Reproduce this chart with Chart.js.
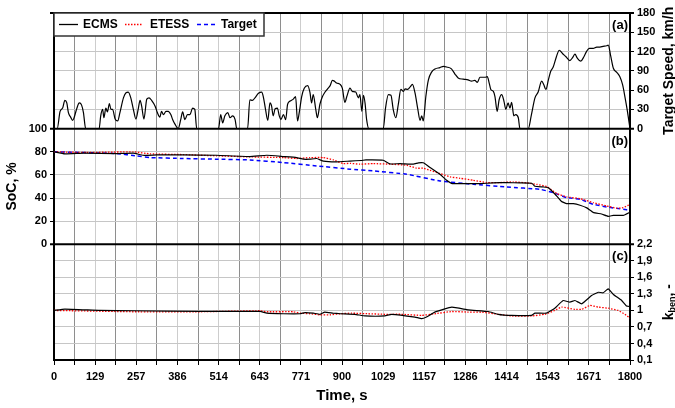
<!DOCTYPE html>
<html>
<head>
    <title>ECMS vs ETESS</title>
    <script src="https://cdn.jsdelivr.net/npm/chart.js"></script>
    <style>
        html, body { margin: 0; padding: 0; background: #fff; }
    </style>
</head>
<body>
    <canvas id="chart" width="675" height="408"></canvas>

    <script>
        // Axis tick labels
        const xTickLabels = ["0", "129", "257", "386", "514", "643", "771", "900", "1029", "1157", "1286", "1414", "1543", "1671", "1800"];
        const speedTicks = [0, 30, 60, 90, 120, 150, 180];
        const socTicks = [0, 20, 40, 60, 80, 100];
        const kbenTicks = [0.1, 0.4, 0.7, 1.0, 1.3, 1.6, 1.9, 2.2];
        const kbenTickLabels = ["0,1", "0,4", "0,7", "1", "1,3", "1,6", "1,9", "2,2"];
        const seriesNames = ["ECMS", "ETESS", "Target"];

        // (a) target speed, km/h
        const speedTime = [0, 10, 19, 27, 34, 40, 45, 52, 58, 62, 71, 79, 86, 92, 99, 141, 146, 152, 156, 162, 167, 173, 178, 183, 191, 199, 206, 217, 225, 232, 240, 248, 256, 263, 269, 274, 281, 290, 297, 305, 316, 323, 331, 336, 342, 350, 357, 365, 371, 378, 388, 396, 402, 409, 417, 425, 433, 440, 446, 514, 521, 527, 534, 543, 550, 558, 566, 571, 605, 612, 620, 628, 639, 649, 654, 661, 668, 675, 680, 685, 691, 698, 704, 709, 717, 724, 730, 738, 748, 755, 761, 767, 774, 782, 793, 800, 805, 810, 818, 823, 831, 839, 847, 855, 863, 870, 876, 883, 894, 901, 909, 915, 925, 932, 943, 951, 956, 962, 967, 972, 977, 984, 1029, 1036, 1045, 1053, 1060, 1068, 1076, 1084, 1092, 1097, 1105, 1113, 1120, 1128, 1137, 1144, 1149, 1154, 1162, 1170, 1180, 1191, 1206, 1217, 1227, 1242, 1253, 1263, 1279, 1294, 1305, 1315, 1323, 1331, 1347, 1354, 1360, 1365, 1373, 1378, 1385, 1391, 1399, 1406, 1412, 1419, 1425, 1430, 1437, 1443, 1451, 1456, 1482, 1492, 1503, 1513, 1524, 1531, 1537, 1545, 1552, 1560, 1570, 1579, 1589, 1600, 1612, 1621, 1628, 1635, 1646, 1656, 1664, 1673, 1685, 1696, 1706, 1716, 1727, 1732, 1739, 1748, 1758, 1768, 1777, 1784, 1791, 1800];
        const speedValues = [0, 0, 27, 32, 44, 40, 25, 18, 13, 16, 31, 40, 37, 25, 0, 0, 20, 30, 17, 32, 26, 39, 30, 30, 15, 12, 25, 48, 56, 57, 48, 30, 15, 30, 44, 35, 15, 46, 48, 44, 35, 25, 18, 27, 22, 27, 27, 22, 14, 7, 0, 14, 26, 14, 22, 22, 32, 30, 0, 0, 22, 9, 20, 25, 17, 20, 14, 0, 0, 45, 44, 48, 55, 57, 50, 30, 13, 40, 35, 20, 31, 32, 20, 14, 22, 14, 38, 43, 46, 50, 12, 27, 50, 63, 67, 56, 40, 53, 30, 17, 38, 50, 57, 62, 67, 75, 74, 71, 69, 63, 41, 50, 63, 58, 57, 48, 53, 27, 52, 40, 14, 0, 0, 32, 53, 52, 30, 17, 38, 61, 58, 62, 61, 65, 69, 56, 30, 13, 20, 12, 50, 76, 88, 93, 95, 97, 96, 93, 85, 79, 77, 76, 74, 75, 72, 80, 80, 81, 71, 61, 58, 50, 27, 45, 53, 43, 30, 40, 32, 41, 20, 22, 17, 0, 0, 22, 48, 57, 74, 68, 61, 76, 89, 96, 112, 122, 117, 112, 106, 111, 116, 110, 105, 112, 120, 125, 125, 127, 127, 128, 129, 130, 115, 94, 88, 81, 68, 50, 30, 0];

        // (b) state of charge, %
        const ecmsSocTime = [0, 34, 92, 196, 248, 279, 321, 404, 508, 612, 665, 717, 758, 779, 800, 821, 842, 883, 925, 960, 975, 1029, 1050, 1081, 1123, 1139, 1154, 1175, 1206, 1227, 1245, 1290, 1331, 1373, 1415, 1456, 1493, 1503, 1529, 1545, 1566, 1586, 1602, 1623, 1644, 1665, 1685, 1711, 1732, 1748, 1779, 1800];
        const ecmsSoc = [80, 78.2, 78.8, 78.5, 78.8, 77, 77.3, 77.3, 77, 75.9, 77, 75.9, 75, 73.6, 73.6, 74.2, 71.9, 71.3, 72, 72.5, 73, 72.7, 69.5, 69.8, 69.3, 70.5, 70.5, 66.5, 60.6, 55.4, 52.5, 52.5, 52.5, 53.1, 53.4, 53.1, 52.8, 50.2, 49.6, 49, 43.3, 37, 35.2, 35.2, 33.8, 31.5, 27.6, 26.2, 24.2, 25.1, 25.1, 27.8];
        const etessSocTime = [0, 100, 248, 300, 404, 508, 612, 717, 758, 800, 842, 873, 904, 925, 956, 998, 1050, 1102, 1133, 1154, 1175, 1206, 1238, 1269, 1310, 1352, 1394, 1435, 1477, 1508, 1540, 1571, 1602, 1644, 1685, 1727, 1758, 1779, 1800];
        const etessSoc = [80, 79.4, 80, 78.2, 77.6, 76.5, 75.6, 75, 74.2, 75, 75, 73, 69.8, 70, 69.3, 69.8, 69.3, 68.4, 65.8, 65.8, 64, 61.2, 58.3, 57.1, 55.4, 53.4, 53.4, 54, 53.1, 51.9, 49.9, 43.9, 41, 39.5, 36, 33.2, 31.2, 31.7, 34.6];
        const targetSocTime = [0, 196, 258, 300, 404, 508, 612, 717, 821, 925, 998, 1102, 1206, 1310, 1415, 1519, 1560, 1602, 1644, 1685, 1727, 1779, 1800];
        const targetSoc = [80, 78.5, 76.5, 75, 74.2, 73.6, 73, 70.7, 67.8, 65, 63.5, 60.6, 54.8, 51.9, 49.6, 47.6, 44.7, 40.4, 39, 34.6, 32.3, 30.3, 29.4];

        // (c) k_ben, -
        const ecmsKbenTime = [0, 34, 144, 248, 456, 644, 665, 717, 769, 784, 810, 831, 846, 872, 894, 940, 972, 1034, 1055, 1128, 1149, 1164, 1190, 1243, 1295, 1357, 1388, 1430, 1492, 1503, 1539, 1565, 1591, 1612, 1628, 1649, 1680, 1701, 1716, 1732, 1748, 1774, 1789, 1800];
        const ecmsKben = [1.0, 1.025, 1.0, 0.994, 0.982, 0.982, 0.95, 0.94, 0.94, 0.96, 0.95, 0.93, 0.97, 0.95, 0.94, 0.93, 0.9, 0.9, 0.93, 0.88, 0.85, 0.88, 0.97, 1.06, 1.01, 0.98, 0.93, 0.91, 0.91, 0.95, 0.95, 1.04, 1.18, 1.15, 1.18, 1.12, 1.27, 1.33, 1.32, 1.39, 1.29, 1.18, 1.08, 1.07];
        const etessKbenTime = [0, 248, 456, 644, 665, 748, 769, 800, 831, 862, 894, 930, 982, 1034, 1086, 1149, 1190, 1243, 1295, 1336, 1388, 1430, 1493, 1534, 1565, 1586, 1628, 1649, 1675, 1701, 1732, 1763, 1784, 1800];
        const etessKben = [1.0, 0.976, 0.976, 0.994, 0.976, 0.976, 0.95, 0.94, 0.92, 0.92, 0.94, 0.95, 0.94, 0.93, 0.93, 0.91, 0.94, 0.98, 0.97, 0.97, 0.93, 0.90, 0.90, 0.93, 1.0, 1.06, 1.02, 1.02, 1.09, 1.06, 1.04, 1.0, 0.93, 0.86];

        const FONT = "'Liberation Sans', Arial, sans-serif";
        const tickFont = { family: FONT, size: 11, weight: "bold" };

        function points(times, values) {
            return times.map((t, i) => ({ x: t, y: values[i] }));
        }

        // labelled ticks every 1800/14 s, grid lines also halfway between
        const xGridValues = [];
        for (let i = 0; i <= 28; i++) xGridValues.push(i * 1800 / 28);

        function setTicks(values) {
            return (scale) => { scale.ticks = values.map((v) => ({ value: v })); };
        }
        function hideEdges(lo, hi) {
            return (c) => (c.tick && (Math.abs(c.tick.value - lo) < 1e-6 || Math.abs(c.tick.value - hi) < 1e-6)) ? "rgba(0,0,0,0)" : "#c6c6c6";
        }
        const leftWidth = (s) => { s.width = 54; };
        const rightWidth = (s) => { s.width = 45; };

        function placeholder(pos, min, max) {
            return {
                position: pos, stack: "panels", stackWeight: 1, min: min, max: max,
                ticks: { display: false },
                grid: { display: false },
                border: { color: "#000", width: 2 },
                afterFit: pos === "left" ? leftWidth : rightWidth
            };
        }

        // frame, panel letters, legend and the right-hand titles
        const decorations = {
            id: "decorations",
            afterDraw(chart) {
                const { ctx, chartArea, scales } = chart;
                const L = chartArea.left, R = chartArea.right;
                ctx.save();

                ctx.strokeStyle = "#000";
                ctx.lineWidth = 2;
                [chartArea.top, scales.yB.getPixelForValue(100), scales.yB.getPixelForValue(0)].forEach((y) => {
                    ctx.beginPath();
                    ctx.moveTo(L - 4, y);
                    ctx.lineTo(R + 4, y);
                    ctx.stroke();
                });

                ctx.fillStyle = "#000";
                ctx.font = "bold 13px " + FONT;
                ctx.textAlign = "right";
                ctx.textBaseline = "middle";
                ctx.fillText("(a)", R - 2, scales.yA.top + 12);
                ctx.fillText("(b)", R - 2, scales.yB.top + 13);
                ctx.fillText("(c)", R - 2, scales.yC.top + 12);

                // legend box
                const top = chartArea.top;
                ctx.fillStyle = "#fff";
                ctx.fillRect(L, top, 210, 23);
                ctx.strokeStyle = "#333";
                ctx.lineWidth = 1.5;
                ctx.strokeRect(L, top, 210, 23);
                const ly = top + 11.5;
                const items = [
                    { x: 5, w: 19, tx: 29, color: "#000", dash: [], lw: 1.3 },
                    { x: 71, w: 18, tx: 96, color: "#ff0000", dash: [1.5, 1.5], lw: 1.3 },
                    { x: 143, w: 20, tx: 167, color: "#0000ff", dash: [4, 3], lw: 1.5 }
                ];
                ctx.font = "bold 12px " + FONT;
                ctx.textAlign = "left";
                items.forEach((it, i) => {
                    ctx.strokeStyle = it.color;
                    ctx.lineWidth = it.lw;
                    ctx.setLineDash(it.dash);
                    ctx.beginPath();
                    ctx.moveTo(L + it.x, ly);
                    ctx.lineTo(L + it.x + it.w, ly);
                    ctx.stroke();
                    ctx.setLineDash([]);
                    ctx.fillStyle = "#000";
                    ctx.fillText(seriesNames[i], L + it.tx, ly + 0.5);
                });

                // right titles, reading bottom to top
                const tx = chart.width - 6;
                ctx.font = "bold 14px " + FONT;
                ctx.save();
                ctx.translate(tx, (scales.yA.top + scales.yA.bottom) / 2);
                ctx.rotate(-Math.PI / 2);
                ctx.textAlign = "center";
                ctx.fillText("Target Speed, km/h", 0, 0);
                ctx.restore();

                ctx.save();
                ctx.translate(tx, (scales.yC.top + scales.yC.bottom) / 2);
                ctx.rotate(-Math.PI / 2);
                ctx.textAlign = "left";
                ctx.font = "bold 14px " + FONT;
                const wk = ctx.measureText("k").width;
                const wc = ctx.measureText(", -").width;
                ctx.font = "bold 9px " + FONT;
                const wb = ctx.measureText("ben").width;
                let x0 = -(wk + wb + wc) / 2;
                ctx.font = "bold 14px " + FONT;
                ctx.fillText("k", x0, 0);
                ctx.font = "bold 9px " + FONT;
                ctx.fillText("ben", x0 + wk, 4);
                ctx.font = "bold 14px " + FONT;
                ctx.fillText(", -", x0 + wk + wb, 0);
                ctx.restore();

                ctx.restore();
            }
        };

        const ctx = document.getElementById("chart").getContext("2d");
        const chart = new Chart(ctx, {
            type: "line",
            data: {
                datasets: [
                    { label: "Speed", data: points(speedTime, speedValues), yAxisID: "yA", borderColor: "#000", borderWidth: 1.2, cubicInterpolationMode: "monotone" },
                    { label: "ECMS", data: points(ecmsSocTime, ecmsSoc), yAxisID: "yB", borderColor: "#000", borderWidth: 1.2, tension: 0.1 },
                    { label: "ETESS", data: points(etessSocTime, etessSoc), yAxisID: "yB", borderColor: "#ff0000", borderWidth: 1.3, borderDash: [1.5, 1.5], tension: 0.1 },
                    { label: "Target", data: points(targetSocTime, targetSoc), yAxisID: "yB", borderColor: "#0000ff", borderWidth: 1.5, borderDash: [4, 3], tension: 0.1 },
                    { label: "ECMS k", data: points(ecmsKbenTime, ecmsKben), yAxisID: "yC", borderColor: "#000", borderWidth: 1.2, tension: 0.1 },
                    { label: "ETESS k", data: points(etessKbenTime, etessKben), yAxisID: "yC", borderColor: "#ff0000", borderWidth: 1.3, borderDash: [1.5, 1.5], tension: 0.1 }
                ]
            },
            options: {
                responsive: false,
                animation: false,
                elements: { point: { radius: 0 } },
                layout: { padding: { top: 13, left: 0, right: 0, bottom: 0 } },
                plugins: { legend: { display: false }, tooltip: { enabled: false } },
                scales: {
                    x: {
                        type: "linear", position: "bottom", min: 0, max: 1800,
                        afterBuildTicks: setTicks(xGridValues),
                        ticks: {
                            autoSkip: false, maxRotation: 0, padding: 5, color: "#000", font: tickFont,
                            callback: (v, i) => (i % 2 === 0 ? xTickLabels[i / 2] : "")
                        },
                        grid: {
                            color: (c) => (c.index % 2 ? "#8e8e8e" : "#cdcdcd"),
                            lineWidth: 1, tickLength: 5, tickColor: "#000"
                        },
                        border: { color: "#000", width: 2 },
                        title: {
                            display: true, text: "Time, s", color: "#000",
                            font: { family: FONT, size: 15, weight: "bold" }, padding: { top: 0, bottom: 3 }
                        },
                        afterFit: (s) => { s.height = 48; }
                    },
                    yA: {
                        position: "right", stack: "panels", stackWeight: 1, min: 0, max: 180,
                        afterBuildTicks: setTicks(speedTicks),
                        ticks: { autoSkip: false, padding: 3, color: "#000", font: tickFont },
                        grid: { color: hideEdges(0, 180), tickLength: 4, tickColor: "#000" },
                        border: { color: "#000", width: 2 },
                        afterFit: rightWidth
                    },
                    yA_L: placeholder("left", 0, 180),
                    yB: {
                        position: "left", stack: "panels", stackWeight: 1, min: 0, max: 100,
                        afterBuildTicks: setTicks(socTicks),
                        ticks: { autoSkip: false, padding: 3, color: "#000", font: tickFont },
                        grid: { color: hideEdges(0, 100), tickLength: 4, tickColor: "#000" },
                        border: { color: "#000", width: 2 },
                        title: {
                            display: true, text: "SoC, %", color: "#000",
                            font: { family: FONT, size: 14, weight: "bold" }, padding: { top: 4, bottom: 0 }
                        },
                        afterFit: leftWidth
                    },
                    yB_R: placeholder("right", 0, 100),
                    yC: {
                        position: "right", stack: "panels", stackWeight: 1, min: 0.1, max: 2.2,
                        afterBuildTicks: setTicks(kbenTicks),
                        ticks: {
                            autoSkip: false, padding: 3, color: "#000", font: tickFont,
                            callback: (v, i) => kbenTickLabels[i]
                        },
                        grid: { color: hideEdges(0.1, 2.2), tickLength: 4, tickColor: "#000" },
                        border: { color: "#000", width: 2 },
                        afterFit: rightWidth
                    },
                    yC_L: placeholder("left", 0.1, 2.2)
                }
            },
            plugins: [decorations]
        });
    </script>
</body>
</html>
